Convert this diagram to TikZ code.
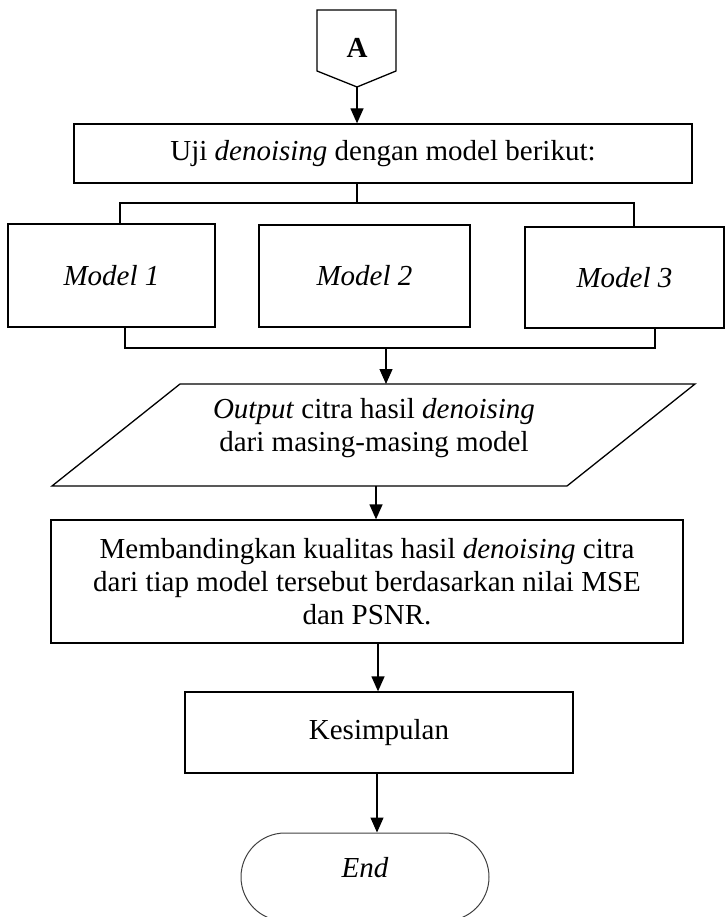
\documentclass[tikz,border=0pt]{standalone}
\usepackage{fontspec}
\setmainfont{Liberation Serif}
\usetikzlibrary{arrows.meta,calc}
\begin{document}
\begin{tikzpicture}[x=1pt,y=-1pt,
  box/.style={draw, line width=1.3pt, inner sep=0pt, align=center, font=\fontsize{29}{33}\selectfont},
  lbl/.style={inner sep=0pt, align=center, font=\fontsize{29}{33}\selectfont},
  conn/.style={line width=1.3pt},
  arr/.style={conn, -{Triangle[length=15pt,width=13pt]}}]
\useasboundingbox (0,0) rectangle (725,917);

% off-page connector A
\node[lbl, font=\fontsize{29}{33}\selectfont\bfseries] (A) at (357,48) {A};
\draw[conn] (317,10) -- (396,10) -- (396,71) -- (357,87) -- (317,71) -- cycle;
\coordinate (Atip) at (357,87);

% test box
\node[box, minimum width=618pt, minimum height=59pt] (uji) at (383,153.5) {Uji \textit{denoising} dengan model berikut:};
\draw[arr] (Atip) -- (Atip |- uji.north);

% models
\node[box, minimum width=207pt, minimum height=103pt] (m1) at (111.5,275.5) {\textit{Model 1}};
\node[box, minimum width=211pt, minimum height=102pt] (m2) at (364.5,276) {\textit{Model 2}};
\node[box, minimum width=199pt, minimum height=101pt] (m3) at (624.5,277.5) {\textit{Model 3}};

% branch
\coordinate (bM) at (357,203);
\coordinate (bL) at (120,203);
\coordinate (bR) at (634,203);
\draw[conn] (bM |- uji.south) -- (bM);
\draw[conn] (m1.north -| bL) -- (bL) -- (bR) -- (m3.north -| bR);

% join
\coordinate (jL) at (125,348);
\coordinate (jR) at (655,348);
\coordinate (jM) at (386,348);
\draw[conn] (m1.south -| jL) -- (jL) -- (jR) -- (m3.south -| jR);

% output parallelogram
\coordinate (p1) at (180,384);
\coordinate (p2) at (695,384);
\coordinate (p3) at (567,486);
\coordinate (p4) at (52,486);
\draw[conn] (p1) -- (p2) -- (p3) -- (p4) -- cycle;
\node[lbl] (out) at (374,428) {\textit{Output} citra hasil \textit{denoising}\\dari masing-masing model};
\draw[arr] (jM) -- (jM |- p1);

% compare box
\node[box, minimum width=632pt, minimum height=123pt] (cmp) at (367,581.5) {Membandingkan kualitas hasil \textit{denoising} citra\\dari tiap model tersebut berdasarkan nilai MSE\\dan PSNR.};
\coordinate (pB) at (376,486);
\draw[arr] (pB) -- (pB |- cmp.north);

% conclusion
\node[box, minimum width=388pt, minimum height=81pt] (kes) at (379,732.5) {Kesimpulan};
\coordinate (a3) at (378,643);
\draw[arr] (a3) -- (a3 |- kes.north);

% end terminal
\node[draw=black!75, line width=1pt, rounded corners=44pt, inner sep=0pt, minimum width=248pt, minimum height=88pt] (endbox) at (365,877) {};
\node[lbl] (end) at (365,868) {\textit{End}};
\coordinate (a4) at (377,773);
\draw[arr] (a4) -- (a4 |- endbox.north);
\end{tikzpicture}
\end{document}
